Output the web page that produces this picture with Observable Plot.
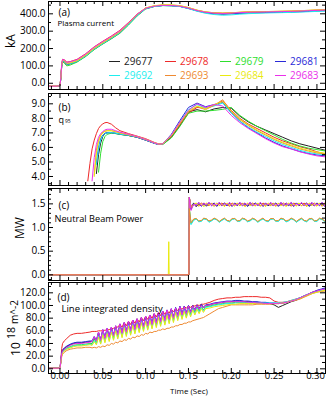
<!DOCTYPE html>
<html><head><meta charset="utf-8">
<script src="https://cdn.jsdelivr.net/npm/d3@7"></script>
<script src="https://cdn.jsdelivr.net/npm/@observablehq/plot@0.6"></script>
<style>
body{margin:0;background:#fff;}
#chart{position:relative;width:327px;height:399px;overflow:hidden;font-family:"Open Sans",sans-serif;background:#fff;}
.rot{position:absolute;transform:translate(-50%,-50%) rotate(-90deg);white-space:nowrap;color:#000;line-height:1;}
.leg{position:absolute;font-size:10px;line-height:1;white-space:nowrap;transform:translateY(-50%);}
.legline{position:absolute;width:11px;height:0;border-top:1px solid;}
</style></head><body><div id="chart"></div>
<script>
const shots = ["29677","29678","29679","29681","29692","29693","29684","29683"];
const shotColors = ["#222222","#ee2a2a","#2ede2e","#2a2ad8","#1eeeee","#ee8a32","#eaea10","#ea30ea"];

const xDomain = [-0.0134, 0.31];
const xMajor = [0, 0.05, 0.10, 0.15, 0.20, 0.25, 0.30];
const xMinor = [-0.01,0.01,0.02,0.03,0.04,0.06,0.07,0.08,0.09,0.11,0.12,0.13,0.14,0.16,0.17,0.18,0.19,0.21,0.22,0.23,0.24,0.26,0.27,0.28,0.29];

// Panel (a) plasma current, kA
const tA = [-0.0134,-0.004,0,0.001,0.002,0.003,0.005,0.008,0.012,0.02,0.03,0.04,0.05,0.06,0.07,0.08,0.09,0.10,0.11,0.12,0.13,0.14,0.15,0.16,0.17,0.18,0.19,0.20,0.21,0.22,0.23,0.24,0.25,0.26,0.27,0.28,0.29,0.30,0.31];
const a29677 = [-18,-18,-15,28,98,130,125,108,112,125, 156,196,228,258,291,338,390,430,443,448, 447,443,432,418,408,403,400,402,405,407, 408,409,410,411,412,414,416,418,420];
const a29678 = [-17,-17,-14,35,110,138,135,122,125,138, 170,210,242,272,305,350,398,433,444,449, 448,444,434,420,410,405,403,405,408,410, 411,412,413,414,415,417,419,421,423];
const a29679 = [-18,-18,-15,25,95,125,115,100,105,122, 154,194,226,256,288,335,387,428,442,448, 447,443,432,418,408,402,400,402,405,407, 408,409,410,411,412,414,416,418,420];
const a29681 = [-18,-18,-15,28,98,130,126,110,113,127, 158,198,230,260,293,340,391,430,443,448, 447,443,431,417,406,400,398,400,403,405, 406,407,408,409,410,412,414,416,418];
const a29692 = [-18,-18,-15,28,98,130,126,110,113,126, 157,197,229,259,292,339,390,429,442,447, 446,442,430,415,403,396,392,394,398,401, 403,405,406,407,408,410,412,414,416];
const a29693 = [-17,-17,-14,30,102,133,130,115,118,130, 162,202,234,264,297,344,395,433,446,451, 451,447,436,421,411,406,404,406,409,411, 412,413,414,415,416,418,420,422,424];
const a29684 = [-17,-17,-14,30,102,133,130,115,118,131, 162,202,234,265,298,345,396,434,447,452, 451,447,436,421,411,406,404,406,409,411, 412,413,414,415,416,418,420,422,424];
const a29683 = [-17,-17,-14,34,108,137,134,120,124,136, 168,208,240,270,302,348,397,432,444,449, 448,444,433,419,409,404,402,404,407,409, 410,411,412,413,414,416,418,420,422];
const aMajor = [0,100,200,300,400];
const aMinor = [50,150,250,350,450];

// Panel (b) q95
const tB = [0.0325,0.035,0.0375,0.04,0.0425,0.045,0.0475,0.05,0.0525,0.055, 0.06,0.065,0.07,0.08,0.09,0.10,0.11,0.115,0.12,0.13, 0.14,0.15,0.16,0.17,0.18,0.19,0.20,0.21,0.22,0.23, 0.24,0.25,0.26,0.27,0.28,0.29,0.30,0.31];
const b29677 = [null,null,null,null,4.2,5.5,6.3,6.75,6.95,7.0, 7.0,6.96,6.9,6.82,6.7,6.5,6.3,6.2,6.22,6.7, 7.5,8.45,8.6,8.45,8.65,8.75,8.7,8.15,7.75,7.45, 7.2,6.95,6.7,6.45,6.25,6.1,5.95,5.8];
const b29678 = [3.7,4.9,5.9,6.5,6.95,7.3,7.5,7.62,7.7,7.72, 7.6,7.35,7.15,6.95,6.78,6.6,6.35,6.25,6.25,6.75, 7.55,8.35,8.75,8.7,8.9,9.2,8.55,8.0,7.6,7.3, 7.0,6.7,6.45,6.25,6.05,5.9,5.7,5.55];
const b29679 = [null,null,null,null,null,4.3,5.6,6.4,6.75,6.9, 6.98,6.95,6.9,6.82,6.7,6.52,6.3,6.22,6.2,6.65, 7.45,8.35,8.5,8.5,8.55,8.62,8.75,8.2,7.8,7.45, 7.15,6.85,6.55,6.3,6.1,5.95,5.85,5.75];
const b29681 = [null,null,null,null,4.9,6.0,6.6,6.85,6.98,7.02, 7.02,6.98,6.92,6.83,6.7,6.5,6.28,6.2,6.23,6.9, 7.85,8.75,9.05,8.8,8.95,9.1,8.4,7.8,7.35,7.0, 6.65,6.35,6.1,5.9,5.72,5.58,5.48,5.42];
const b29692 = [null,null,null,null,4.8,5.9,6.5,6.8,6.95,7.0, 7.02,6.98,6.92,6.84,6.72,6.52,6.3,6.2,6.23,6.85, 7.75,8.6,8.95,8.7,8.85,9.05,8.35,7.8,7.4,7.05, 6.75,6.45,6.2,6.0,5.8,5.65,5.55,5.5];
const b29693 = [null,null,null,4.1,5.8,6.5,6.85,7.05,7.12,7.15, 7.15,7.08,7.0,6.87,6.74,6.55,6.32,6.22,6.25,6.8, 7.65,8.45,8.8,8.6,8.9,9.28,8.45,7.9,7.5,7.15, 6.85,6.55,6.3,6.1,5.9,5.75,5.62,5.55];
const b29684 = [null,null,null,4.0,5.6,6.4,6.8,7.0,7.1,7.15, 7.15,7.1,7.0,6.88,6.75,6.55,6.33,6.23,6.25,6.8, 7.7,8.5,8.85,8.65,8.95,9.15,8.5,7.95,7.55,7.2, 6.9,6.6,6.35,6.15,5.95,5.8,5.68,5.6];
const b29683 = [null,null,3.7,5.3,6.2,6.7,6.95,7.1,7.2,7.25, 7.25,7.15,7.05,6.9,6.75,6.55,6.32,6.22,6.25,6.85, 7.75,8.55,9.0,8.75,8.95,8.85,8.2,7.7,7.3,6.95, 6.6,6.3,6.05,5.9,5.7,5.55,5.42,5.35];
const bMajor = [4,5,6,7,8,9];
const bMinor = [3.5,4.5,5.5,6.5,7.5,8.5,9.5];

// Panel (c) neutral beam power, MW
const tC = [-0.0134,0.1265,0.127,0.1275,0.1505,0.151,
  0.153,0.156,0.159,0.162,0.165,0.168,0.171,0.174,0.177,0.180,
  0.183,0.186,0.189,0.192,0.195,0.198,0.201,0.204,0.207,0.210,
  0.213,0.216,0.219,0.222,0.225,0.228,0.231,0.234,0.237,0.240,
  0.243,0.246,0.249,0.252,0.255,0.258,0.261,0.264,0.267,0.270,
  0.273,0.276,0.279,0.282,0.285,0.288,0.291,0.294,0.297,0.300,
  0.303,0.306,0.309];
const c29677 = [0,0,0,0,0,1.64,
  1.40,1.52,1.44,1.50,1.46,1.52,1.45,1.51,1.47,1.52,
  1.45,1.51,1.46,1.52,1.47,1.50,1.45,1.52,1.46,1.51,
  1.47,1.52,1.45,1.50,1.46,1.52,1.47,1.51,1.45,1.52,
  1.46,1.50,1.47,1.52,1.45,1.51,1.46,1.52,1.47,1.50,
  1.45,1.52,1.46,1.51,1.47,1.52,1.45,1.50,1.46,1.52,
  1.47,1.51,1.45];
const c29678 = [0,0,0,0,0,1.64,
  1.45,1.47,1.51,1.45,1.52,1.47,1.50,1.46,1.52,1.45,
  1.51,1.47,1.52,1.46,1.50,1.45,1.52,1.47,1.51,1.46,
  1.52,1.45,1.50,1.47,1.52,1.46,1.51,1.45,1.52,1.47,
  1.50,1.46,1.52,1.45,1.51,1.47,1.52,1.46,1.50,1.45,
  1.52,1.47,1.51,1.46,1.52,1.45,1.50,1.47,1.52,1.46,
  1.51,1.45,1.52];
const c29679 = [0,0,0,0,0,1.40,
  1.08,1.17,1.19,1.13,1.14,1.19,1.18,1.13,1.15,1.19,
  1.17,1.12,1.16,1.19,1.15,1.13,1.18,1.19,1.14,1.14,
  1.19,1.18,1.13,1.15,1.19,1.17,1.12,1.16,1.19,1.15,
  1.13,1.18,1.19,1.14,1.14,1.19,1.18,1.13,1.15,1.19,
  1.17,1.12,1.16,1.19,1.15,1.13,1.18,1.19,1.14,1.14,
  1.19,1.18,1.13];
const c29681 = [0,0,0,0,0,1.64,
  1.38,1.50,1.46,1.53,1.45,1.50,1.47,1.53,1.46,1.51,
  1.45,1.53,1.47,1.50,1.46,1.53,1.45,1.51,1.47,1.53,
  1.46,1.50,1.45,1.53,1.47,1.51,1.46,1.53,1.45,1.50,
  1.47,1.53,1.46,1.51,1.45,1.53,1.47,1.50,1.46,1.53,
  1.45,1.51,1.47,1.53,1.46,1.50,1.45,1.53,1.47,1.51,
  1.46,1.53,1.45];
const c29692 = [0,0,0,0,0,1.40,
  1.06,1.15,1.18,1.12,1.13,1.18,1.17,1.11,1.14,1.18,
  1.16,1.11,1.15,1.18,1.14,1.12,1.17,1.18,1.13,1.13,
  1.18,1.17,1.12,1.14,1.18,1.16,1.11,1.15,1.18,1.14,
  1.12,1.17,1.18,1.13,1.13,1.18,1.17,1.12,1.14,1.18,
  1.16,1.11,1.15,1.18,1.14,1.12,1.17,1.18,1.13,1.13,
  1.18,1.17,1.12];
const c29693 = [0,0,0,0,0,1.40,
  1.10,1.18,1.19,1.14,1.15,1.20,1.18,1.14,1.16,1.20,
  1.17,1.13,1.17,1.20,1.15,1.14,1.19,1.19,1.14,1.15,
  1.20,1.18,1.14,1.16,1.20,1.17,1.13,1.17,1.20,1.15,
  1.14,1.19,1.19,1.14,1.15,1.20,1.18,1.14,1.16,1.20,
  1.17,1.13,1.17,1.20,1.15,1.14,1.19,1.19,1.14,1.15,
  1.20,1.18,1.14];
const c29684 = [0,0,0.70,0,0,1.64,
  1.42,1.48,1.52,1.46,1.50,1.44,1.52,1.47,1.50,1.45,
  1.52,1.46,1.50,1.44,1.52,1.47,1.50,1.45,1.52,1.46,
  1.50,1.44,1.52,1.47,1.50,1.45,1.52,1.46,1.50,1.44,
  1.52,1.47,1.50,1.45,1.52,1.46,1.50,1.44,1.52,1.47,
  1.50,1.45,1.52,1.46,1.50,1.44,1.52,1.47,1.50,1.45,
  1.52,1.46,1.50];
const c29683 = [0,0,0,0,0,1.64,
  1.36,1.49,1.47,1.53,1.46,1.51,1.48,1.53,1.46,1.50,
  1.47,1.53,1.46,1.51,1.48,1.53,1.46,1.50,1.47,1.53,
  1.46,1.51,1.48,1.53,1.46,1.50,1.47,1.53,1.46,1.51,
  1.48,1.53,1.46,1.50,1.47,1.53,1.46,1.51,1.48,1.53,
  1.46,1.50,1.47,1.53,1.46,1.51,1.48,1.53,1.46,1.50,
  1.47,1.53,1.46];
const cMajor = [0,0.5,1.0,1.5];
const cMinor = [-0.1,0.1,0.2,0.3,0.4,0.6,0.7,0.8,0.9,1.1,1.2,1.3,1.4,1.6,1.7,1.8];

// Panel (d) line integrated density, 10^18 m^-2
const tD = [-0.0134,-0.004,0,0.001,0.002,0.003,0.005,0.008,0.012,0.016, 0.02,0.025,0.03,0.035,
  0.0375,0.04,0.0425,0.045,0.0475,0.05,0.0525,0.055,0.0575,0.06,
  0.0625,0.065,0.0675,0.07,0.0725,0.075,0.0775,0.08,0.0825,0.085,
  0.0875,0.09,0.0925,0.095,0.0975,0.10,0.1025,0.105,0.1075,0.11,
  0.1125,0.115,0.1175,0.12,0.1225,0.125,0.1275,0.13,0.1325,0.135,
  0.1375,0.14,0.1425,0.145,0.1475,0.15,0.1525,0.155,0.1575,0.16,
  0.1625,0.165,0.1675,0.17,
  0.175,0.18,0.185,0.19,0.195,0.20,0.205,0.21,0.215,0.22,
  0.225,0.23,0.235,0.24,0.245,0.25,0.255,0.26,0.265,0.27,
  0.275,0.28,0.285,0.29,0.295,0.30,0.305,0.31];
const d29677 = [1,1,1,12,25,29,32,35,38,40, 41,41,42,43,
  43,50,44,57,45,61,48,63,50,65, 52,67,54,70,56,72,58,74,60,76, 62,78,64,80,66,82,68,84,70,86, 72,88,74,90,76,92,78,94,80,96, 83,98,85,98,87,99,89,99,92,100, 94,101,96,100,
  101,103,104,105,106,106,107,107,106,106, 105,105,104,104,103,101,97,100,103,106, 108,111,114,117,120,123,125,127];
const d29678 = [1,1,1,14,32,40,44,48,53,55, 56,56,57,58,
  59,59,59,60,60,60,61,61,62,63, 64,65,66,70,66,73,68,75,70,77, 72,79,74,81,76,83,78,85,80,87, 82,89,84,91,86,92,88,94,90,95, 92,97,94,98,96,99,97,100,99,101, 100,102,102,103,
  105,108,110,111,112,112,113,113,114,114, 114,114,113,113,112,107,105,105,106,108, 110,112,115,118,121,123,125,126];
const d29679 = [1,1,1,11,23,27,30,33,35,37, 38,38,39,40,
  40,47,41,54,42,58,45,60,47,62, 49,64,51,67,53,69,55,71,57,73, 59,75,61,77,63,79,65,81,67,83, 69,85,71,87,73,89,75,91,77,93, 80,95,82,95,84,96,86,97,89,98, 91,98,93,98,
  99,101,102,103,104,104,105,105,105,104, 104,104,103,103,103,103,103,104,105,107, 109,112,115,118,121,123,125,126];
const d29681 = [1,1,1,12,26,30,33,36,39,41, 42,42,43,44,
  44,51,45,58,46,62,49,64,51,66, 53,68,55,71,57,73,59,75,61,77, 63,79,65,81,67,83,69,85,71,87, 73,89,75,91,77,93,79,95,81,97, 84,99,86,99,88,100,90,100,93,101, 95,102,97,101,
  102,104,105,106,107,107,108,108,107,107, 106,106,105,105,104,104,103,104,105,107, 109,112,115,118,121,124,126,128];
const d29692 = [1,1,1,10,22,26,29,32,34,36, 37,37,38,39,
  38,45,39,52,40,56,43,58,45,60, 47,62,49,65,51,67,53,69,55,71, 57,73,59,75,61,77,63,79,65,81, 67,83,69,85,71,87,73,89,75,91, 78,93,80,93,82,94,84,95,87,96, 89,97,91,97,
  98,100,101,102,103,103,104,104,104,104, 104,104,104,104,104,104,104,105,106,108, 110,112,115,118,120,122,124,125];
const d29693 = [1,1,1,9,19,23,26,29,31,32, 33,33,34,34,
  33,34,33,35,34,36,35,38,37,40, 39,42,41,44,43,46,45,48,47,50, 49,52,51,54,53,56,55,58,57,59, 59,61,61,63,62,64,64,66,66,68, 68,70,70,72,72,74,74,76,77,78, 79,80,81,83,
  87,91,95,97,99,101,101,101,101,101, 101,102,102,102,102,103,103,104,105,107, 108,110,113,116,119,121,122,123];
const d29684 = [1,1,1,10,21,25,28,31,33,35, 36,36,37,38,
  37,43,38,50,39,54,41,56,43,58, 45,60,47,63,49,65,51,67,53,69, 55,71,57,73,59,75,61,77,63,79, 65,81,67,83,69,85,71,87,73,89, 76,91,78,91,80,92,82,93,85,94, 87,95,89,95,
  96,98,99,100,101,102,102,103,103,103, 103,103,103,103,103,103,103,104,105,107, 109,111,114,117,119,121,123,124];
const d29683 = [1,1,1,11,24,28,31,34,37,39, 40,40,41,42,
  43,51,44,58,45,62,48,64,50,66, 52,68,54,71,56,73,58,75,60,77, 62,79,64,81,66,83,68,85,70,87, 72,89,74,91,76,93,78,95,80,96, 83,98,85,98,87,99,89,99,92,100, 94,100,96,100,
  101,103,104,105,106,106,106,106,106,105, 105,104,104,103,103,103,103,104,105,107, 109,112,115,118,121,123,125,126];
const dMajor = [0,20,40,60,80,100,120];
const dMinor = [10,30,50,70,90,110,130];

const chart = document.getElementById("chart");
const fmt1 = d3.format(".1f"), fmt2 = d3.format(".2f");

function makeRows(times, table, order) {
  const rows = [];
  for (const s of order) table[s].forEach((v, i) => rows.push({shot: s, t: times[i], v}));
  return rows;
}

function panel(cfg) {
  const fw = 327 - 48 - 2, fh = cfg.height - cfg.mt - cfg.mb;
  const marks = [
    Plot.line(cfg.rows, {x: "t", y: "v", z: "shot", stroke: "shot", strokeWidth: 1, clip: true}),
    Plot.tickY(cfg.yMajor, {y: d => d, insetRight: fw - 5}),
    Plot.tickY(cfg.yMajor, {y: d => d, insetLeft: fw - 5}),
    Plot.tickY(cfg.yMinor, {y: d => d, insetRight: fw - 3}),
    Plot.tickY(cfg.yMinor, {y: d => d, insetLeft: fw - 3}),
    Plot.tickX(xMajor, {x: d => d, insetTop: fh - 5}),
    Plot.tickX(xMajor, {x: d => d, insetBottom: fh - 5}),
    Plot.tickX(xMinor, {x: d => d, insetTop: fh - 3}),
    Plot.tickX(xMinor, {x: d => d, insetBottom: fh - 3}),
    Plot.frame({stroke: "#000"}),
    Plot.text(cfg.yMajor, {y: d => d, text: d => fmt1(d), frameAnchor: "left", dx: -3, textAnchor: "end", fontSize: 10}),
    ...cfg.extra
  ];
  const svg = Plot.plot({
    width: 327, height: cfg.height, marginLeft: 48, marginRight: 2, marginTop: cfg.mt, marginBottom: cfg.mb,
    x: {domain: xDomain, axis: null}, y: {domain: cfg.yDomain, axis: null},
    color: {domain: shots, range: shotColors},
    style: {background: "transparent", fontFamily: '"Open Sans", sans-serif', color: "#000", overflow: "visible"},
    marks
  });
  svg.style.position = "absolute"; svg.style.left = "0px"; svg.style.top = cfg.top + "px";
  chart.appendChild(svg);
}

const note = (s, dx, dy, size) => Plot.text([s], {text: d => d, frameAnchor: "top-left", dx, dy, textAnchor: "start", fontSize: size});

panel({top: 0, height: 91, mt: 1, mb: 2, yDomain: [-36, 471], yMajor: aMajor, yMinor: aMinor,
  rows: makeRows(tA, {"29677": a29677, "29678": a29678, "29679": a29679, "29681": a29681, "29692": a29692, "29693": a29693, "29684": a29684, "29683": a29683}, shots),
  extra: [note("(a)", 10, 7, 10), note("Plasma current", 9, 19, 8)]});

panel({top: 90, height: 97, mt: 3, mb: 2, yDomain: [3.38, 9.71], yMajor: bMajor, yMinor: bMinor,
  rows: makeRows(tB, {"29677": b29677, "29678": b29678, "29679": b29679, "29681": b29681, "29692": b29692, "29693": b29693, "29684": b29684, "29683": b29683}, shots),
  extra: [note("(b)", 10, 10.5, 10), note("q", 10, 23, 9), note("95", 16.5, 26, 5)]});

panel({top: 186, height: 96, mt: 2, mb: 2, yDomain: [-0.12, 1.825], yMajor: cMajor, yMinor: cMinor,
  rows: makeRows(tC, {"29677": c29677, "29678": c29678, "29679": c29679, "29681": c29681, "29692": c29692, "29693": c29693, "29684": c29684, "29683": c29683},
    ["29677","29678","29679","29692","29681","29684","29683","29693"]),
  extra: [note("(c)", 10, 13, 10), note("Neutral Beam Power", 6, 27, 9.2)]});

const xLabelsMid = xMajor.slice(0, -1), xLabelsEnd = xMajor.slice(-1);
panel({top: 280, height: 119, mt: 2, mb: 26, yDomain: [-7.4, 136.3], yMajor: dMajor, yMinor: dMinor,
  rows: makeRows(tD, {"29677": d29677, "29678": d29678, "29679": d29679, "29681": d29681, "29692": d29692, "29693": d29693, "29684": d29684, "29683": d29683}, shots),
  extra: [note("(d)", 9, 11.5, 10), note("Line integrated density", 13, 23, 9.5),
    Plot.text(xLabelsMid, {x: d => d, text: d => fmt2(d), frameAnchor: "bottom", dy: 5, fontSize: 9.5}),
    Plot.text(xLabelsEnd, {x: d => d, text: d => fmt2(d), frameAnchor: "bottom", dy: 5, dx: 8, textAnchor: "end", fontSize: 9.5}),
    Plot.text(["Time (Sec)"], {text: d => d, frameAnchor: "bottom", dx: 2, dy: 20.5, fontSize: 8})]});

// axis titles
function rot(html, cx, cy, size) {
  const d = document.createElement("div");
  d.className = "rot"; d.style.left = cx + "px"; d.style.top = cy + "px"; d.style.fontSize = size + "px";
  d.innerHTML = html; chart.appendChild(d);
}
rot("kA", 11, 41, 12);
rot("MW", 20, 228, 12);
rot('<span style="font-size:12px">10</span> <span style="font-size:10.5px;position:relative;top:-5px">18</span> <span style="font-size:10px;position:relative;top:-2px">m^-2</span>', 16, 328, 12);

// legend
const legX = [109, 165, 220, 275], legY = [61, 75];
shots.forEach((s, i) => {
  const x = legX[i % 4], y = legY[Math.floor(i / 4)], c = shotColors[i];
  const l = document.createElement("div"); l.className = "legline";
  l.style.left = x + "px"; l.style.top = y + "px"; l.style.borderColor = c; chart.appendChild(l);
  const t = document.createElement("div"); t.className = "leg";
  t.style.left = (x + 15) + "px"; t.style.top = y + "px"; t.style.color = c; t.textContent = s; chart.appendChild(t);
});
</script></body></html>
